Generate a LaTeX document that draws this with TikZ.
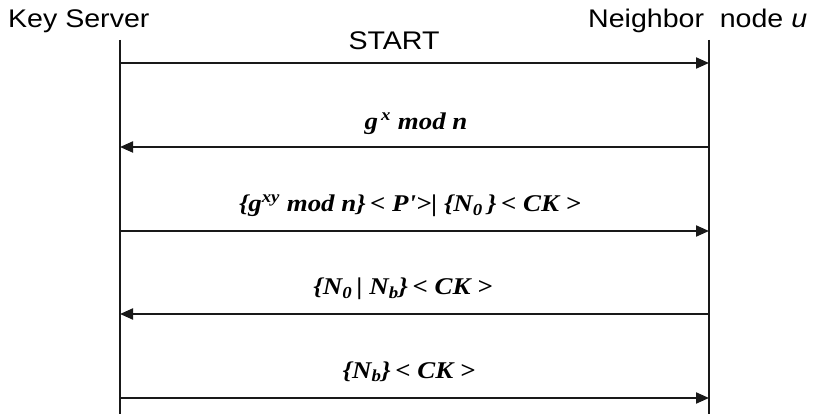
\documentclass[tikz,border=0pt]{standalone}
\usepackage{graphicx}
\usepackage{fontspec}
\setmainfont{Liberation Serif}
\newfontfamily\headfont{Liberation Sans}
\usetikzlibrary{arrows.meta}
\tikzset{
  head/.style={font=\headfont\fontsize{25.5}{28}\selectfont, inner sep=0pt},
  msg/.style={font=\fontsize{24}{27}\selectfont\bfseries\itshape, inner sep=0pt, anchor=base},
  life/.style={line width=2pt, draw=black!90},
  arr/.style={line width=2pt, draw=black!90, -{Triangle[length=13pt,width=11pt]}},
}
\newcommand{\hs}[1]{\scalebox{1.12}[1]{#1}}
\begin{document}
\begin{tikzpicture}[x=1pt,y=-1pt]
\useasboundingbox (0,0) rectangle (828,414);
% heads
\node[head, anchor=base west] (ks) at (8,28) {\hs{Key Server}};
\node[head, anchor=base west] (nb) at (588,28) {\hs{Neighbor\hspace{14pt}node \textit{u}}};
% lifelines
\coordinate (LT) at (120,40);
\coordinate (LB) at (120,414);
\coordinate (RT) at (709,40);
\coordinate (RB) at (709,414);
\draw[life] (LT) -- (LB);
\draw[life] (RT) -- (RB);
% message points
\coordinate (L1) at (120,63);  \coordinate (R1) at (709,63);
\coordinate (L2) at (120,147); \coordinate (R2) at (709,147);
\coordinate (L3) at (120,231); \coordinate (R3) at (709,231);
\coordinate (L4) at (120,314); \coordinate (R4) at (709,314);
\coordinate (L5) at (120,398); \coordinate (R5) at (709,398);
\draw[arr] (L1) -- (R1);
\draw[arr] (R2) -- (L2);
\draw[arr] (L3) -- (R3);
\draw[arr] (R4) -- (L4);
\draw[arr] (L5) -- (R5);
% labels
\node[head, anchor=base] (m1) at (394,50) {\hs{START}};
\node[msg] (m2) at (416,130) {\hs{g\textsuperscript{\,x} mod n}};
\node[msg] (m3) at (410,212) {\hs{\{g\textsuperscript{xy} mod n\}\,\textless\ P\textquotesingle\textgreater\textbar\ \{N\textsubscript{0}\,\}\,\textless\ CK \textgreater}};
\node[msg] (m4) at (403,295) {\hs{\{N\textsubscript{0}\,\textbar\ N\textsubscript{b}\}\,\textless\ CK \textgreater}};
\node[msg] (m5) at (409,378) {\hs{\{N\textsubscript{b}\}\,\textless\ CK \textgreater}};
\end{tikzpicture}
\end{document}
